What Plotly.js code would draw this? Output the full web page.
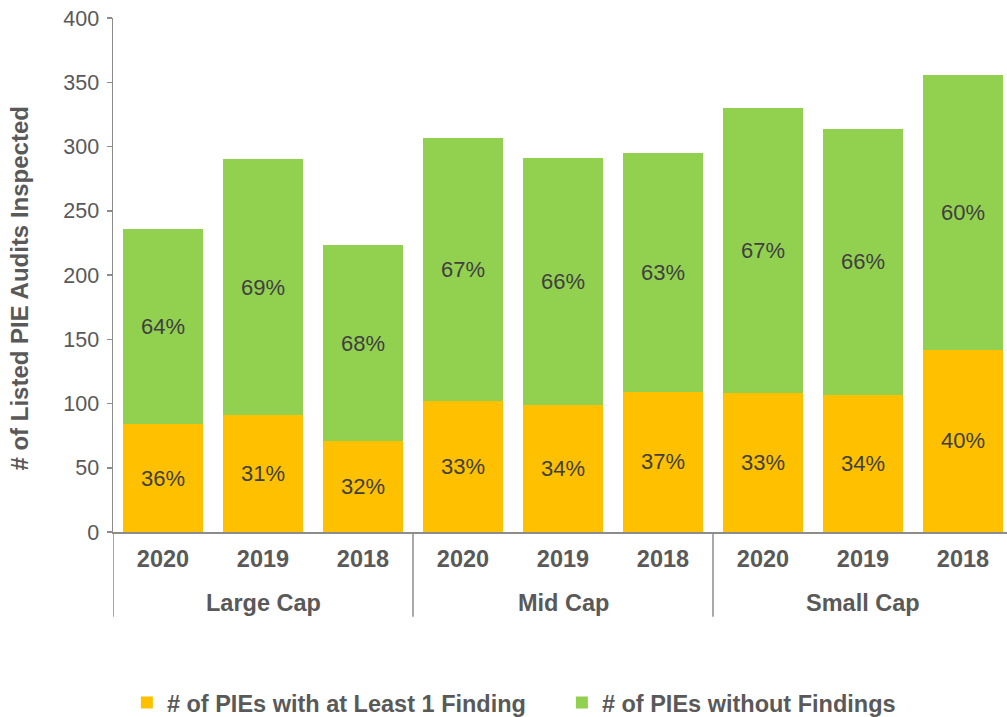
<!DOCTYPE html>
<html>
<head>
<meta charset="utf-8">
<script src="https://cdn.plot.ly/plotly-3.0.1.min.js"></script>
<style>html,body{margin:0;padding:0;background:#fff;}#chart{width:1007px;height:717px;}</style>
</head>
<body>
<div id="chart"></div>
<script>
// Data
const groups = ["Large Cap", "Mid Cap", "Small Cap"];
const years = ["2020", "2019", "2018", "2020", "2019", "2018", "2020", "2019", "2018"];
const withFinding = [84, 91, 71, 102, 99, 109, 108, 107, 142];
const withoutFinding = [152, 199, 152, 205, 192, 186, 222, 207, 214];
const pctWith = ["36%", "31%", "32%", "33%", "34%", "37%", "33%", "34%", "40%"];
const pctWithout = ["64%", "69%", "68%", "67%", "66%", "63%", "67%", "66%", "60%"];
const seriesNames = ["# of PIEs with at Least 1 Finding", "# of PIEs without Findings"];
const yTicks = [0, 50, 100, 150, 200, 250, 300, 350, 400];

const idx = years.map((_, i) => i);
const FONT = "Liberation Sans, Arial, sans-serif";
const GREY = "#595959";
const AXIS = "#8c8c8c";

const common = {
  type: "bar",
  x: idx,
  width: 0.8,
  textposition: "inside",
  insidetextanchor: "middle",
  textangle: 0,
  constraintext: "none",
  textfont: {family: FONT, size: 22, color: "#404040"},
  hoverinfo: "skip"
};

const traces = [
  Object.assign({}, common, {name: seriesNames[0], y: withFinding, text: pctWith, marker: {color: "#FFC000"}}),
  Object.assign({}, common, {name: seriesNames[1], y: withoutFinding, text: pctWithout, marker: {color: "#92D050"}})
];

const perGroup = years.length / groups.length;
const annotations = groups.map((g, i) => ({
  text: "<b>" + g + "</b>",
  x: i * perGroup + (perGroup - 1) / 2,
  xref: "x", yref: "paper",
  y: -0.138, yanchor: "middle",
  showarrow: false,
  font: {family: FONT, size: 23.5, color: GREY}
}));

const shapes = [];
for (let i = 0; i <= groups.length; i++) {
  shapes.push({
    type: "line", xref: "x", yref: "paper",
    x0: i * perGroup - 0.5, x1: i * perGroup - 0.5,
    y0: 0, y1: -0.165,
    line: {color: AXIS, width: 1.5}
  });
}

const layout = {
  width: 1007, height: 717,
  margin: {l: 113, r: 0, t: 18, b: 185},
  barmode: "stack",
  paper_bgcolor: "#fff", plot_bgcolor: "#fff",
  font: {family: FONT, color: GREY},
  showlegend: true,
  legend: {
    orientation: "h",
    xref: "container", yref: "container",
    x: 0.126, xanchor: "left",
    y: 0.02, yanchor: "middle",
    font: {family: FONT, size: 23.5, color: GREY, weight: "bold"},
    entrywidth: 390,
    traceorder: "normal"
  },
  xaxis: {
    range: [-0.5, 8.44],
    tickmode: "array",
    tickvals: idx,
    ticktext: years.map(y => "<b>" + y + "</b>"),
    tickfont: {family: FONT, size: 23.5, color: GREY},
    ticks: "",
    ticklabelstandoff: 5,
    showline: true, linecolor: AXIS, linewidth: 1.5,
    showgrid: false, zeroline: false,
    fixedrange: true
  },
  yaxis: {
    range: [0, 400],
    tickmode: "array",
    tickvals: yTicks,
    ticks: "outside", ticklen: 5, tickcolor: AXIS, tickwidth: 1.5,
    ticklabelstandoff: 3,
    tickfont: {family: FONT, size: 21.5, color: GREY},
    showline: true, linecolor: AXIS, linewidth: 1.5,
    showgrid: false, zeroline: false,
    title: {text: "<b># of Listed PIE Audits Inspected\u00a0\u00a0\u00a0\u00a0</b>", font: {family: FONT, size: 24, color: GREY}, standoff: 28},
    fixedrange: true
  },
  annotations: annotations,
  shapes: shapes,
  hovermode: false
};

Plotly.newPlot("chart", traces, layout, {displayModeBar: false, staticPlot: true});
</script>
</body>
</html>
